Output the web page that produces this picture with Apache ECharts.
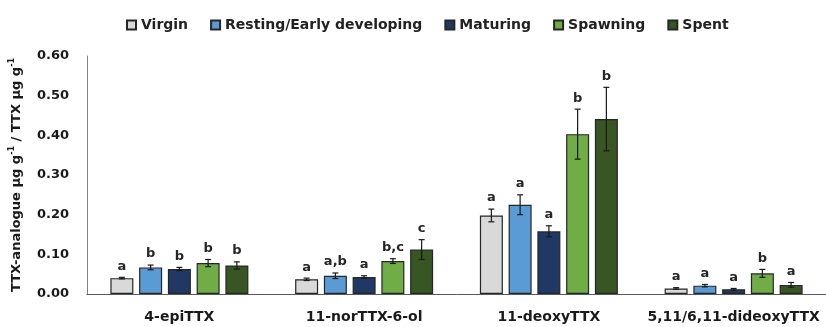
<!DOCTYPE html>
<html>
<head>
<meta charset="utf-8">
<script src="https://cdn.jsdelivr.net/npm/echarts@6/dist/echarts.min.js"></script>
<style>
  html, body { margin: 0; padding: 0; background: #fff; }
  #chart { width: 826px; height: 327px; }
</style>
</head>
<body>
<div id="chart"></div>
<script>
// TTX analogues relative to TTX, by gonad maturity stage
const categories = ['4-epiTTX', '11-norTTX-6-ol', '11-deoxyTTX', '5,11/6,11-dideoxyTTX'];
const stages = ['Virgin', 'Resting/Early developing', 'Maturing', 'Spawning', 'Spent'];

const virgin      = [0.040, 0.037, 0.198, 0.014];
const resting     = [0.067, 0.046, 0.225, 0.021];
const maturing    = [0.063, 0.043, 0.158, 0.012];
const spawning    = [0.078, 0.083, 0.403, 0.052];
const spent       = [0.072, 0.112, 0.441, 0.023];

const virginErr   = [0.002, 0.003, 0.016, 0.002];
const restingErr  = [0.006, 0.007, 0.025, 0.003];
const maturingErr = [0.004, 0.003, 0.014, 0.002];
const spawningErr = [0.009, 0.006, 0.063, 0.010];
const spentErr    = [0.009, 0.025, 0.080, 0.006];

// significance groupings
const virginSig   = ['a', 'a', 'a', 'a'];
const restingSig  = ['b', 'a,b', 'a', 'a'];
const maturingSig = ['b', 'a', 'a', 'a'];
const spawningSig = ['b', 'b,c', 'b', 'b'];
const spentSig    = ['b', 'c', 'b', 'a'];

const yTicks = [0, 0.1, 0.2, 0.3, 0.4, 0.5, 0.6];

const values = [virgin, resting, maturing, spawning, spent];
const errors = [virginErr, restingErr, maturingErr, spawningErr, spentErr];
const sigs = [virginSig, restingSig, maturingSig, spawningSig, spentSig];
const colors = ['#d9d9d9', '#5b9bd5', '#1f3864', '#70ad47', '#375623'];

const FONT = 'DejaVu Sans';
const BAR_W = 23;
const BAR_GAP = 0.25;
const STEP = BAR_W * (1 + BAR_GAP);

const barSeries = stages.map((name, s) => ({
  name: name,
  type: 'bar',
  data: values[s],
  barWidth: BAR_W,
  barGap: (BAR_GAP * 100) + '%',
  itemStyle: { color: colors[s], borderColor: '#262626', borderWidth: 1.2 },
  z: 2
}));

const errSeries = stages.map((name, s) => ({
  name: name + ' SE',
  type: 'custom',
  z: 5,
  silent: true,
  clip: false,
  data: values[s].map((v, i) => [i, v, errors[s][i]]),
  encode: { x: 0, y: 1 },
  renderItem: function (params, api) {
    const ci = api.value(0), v = api.value(1), e = api.value(2);
    const off = (s - 2) * STEP;
    const hi = api.coord([ci, v + e]);
    const lo = api.coord([ci, v - e]);
    const x = hi[0] + off;
    const cap = 3;
    const st = { stroke: '#1a1a1a', lineWidth: 1.2 };
    return {
      type: 'group',
      children: [
        { type: 'line', shape: { x1: x, y1: hi[1], x2: x, y2: lo[1] }, style: st },
        { type: 'line', shape: { x1: x - cap, y1: hi[1], x2: x + cap, y2: hi[1] }, style: st },
        { type: 'line', shape: { x1: x - cap, y1: lo[1], x2: x + cap, y2: lo[1] }, style: st },
        {
          type: 'text',
          x: x, y: hi[1] - 11,
          style: {
            text: sigs[s][params.dataIndex],
            fill: '#262626',
            font: 'bold 13px "' + FONT + '"',
            align: 'center',
            verticalAlign: 'middle'
          }
        }
      ]
    };
  }
}));

const chart = echarts.init(document.getElementById('chart'), null, { renderer: 'canvas' });
chart.setOption({
  animation: false,
  backgroundColor: '#ffffff',
  textStyle: { fontFamily: FONT },
  legend: {
    data: stages,
    left: 121,
    top: 13,
    icon: 'rect',
    itemWidth: 9,
    itemHeight: 9,
    itemGap: 22,
    textStyle: { fontFamily: FONT, fontSize: 14, fontWeight: 'bold', color: '#222' }
  },
  grid: { left: 86, top: 56, width: 748, height: 238, containLabel: false },
  xAxis: {
    type: 'category',
    data: categories,
    axisLine: { lineStyle: { color: '#595959', width: 1 } },
    axisTick: { show: false },
    axisLabel: { interval: 0, fontFamily: FONT, fontSize: 14, fontWeight: 'bold', color: '#1a1a1a', margin: 16 }
  },
  yAxis: {
    type: 'value',
    min: yTicks[0],
    max: yTicks[yTicks.length - 1],
    interval: yTicks[1] - yTicks[0],
    splitLine: { show: false },
    axisLine: { show: true, lineStyle: { color: '#7f7f7f', width: 1 } },
    axisTick: { show: false },
    axisLabel: {
      fontFamily: FONT, fontSize: 13, fontWeight: 'bold', color: '#1a1a1a', margin: 18,
      formatter: v => v.toFixed(2)
    },
    name: '{m|TTX-analogue µg g}{s|-1}{m| / TTX µg g}{s|-1}',
    nameLocation: 'middle',
    nameRotate: 90,
    nameGap: 64,
    nameTextStyle: {
      rich: {
        m: { fontFamily: FONT, fontSize: 13, fontWeight: 'bold', color: '#1a1a1a', lineHeight: 15, verticalAlign: 'bottom' },
        s: { fontFamily: FONT, fontSize: 8, fontWeight: 'bold', color: '#1a1a1a', lineHeight: 9, verticalAlign: 'top' }
      }
    }
  },
  series: barSeries.concat(errSeries)
});
</script>
</body>
</html>
